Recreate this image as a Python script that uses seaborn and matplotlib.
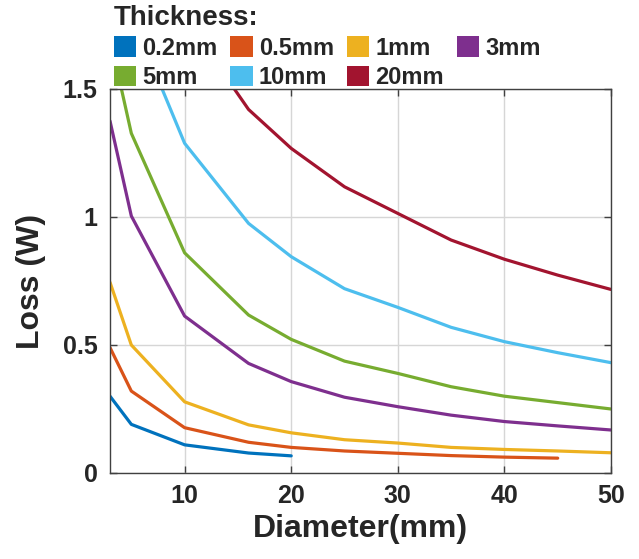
import numpy as np
import pandas as pd
import matplotlib
matplotlib.use("Agg")
import matplotlib.pyplot as plt
from matplotlib.patches import Patch
import seaborn as sns

diameter = [3, 5, 10, 16, 20, 25, 30, 35, 40, 45, 50]
thickness_labels = ["0.2mm", "0.5mm", "1mm", "3mm", "5mm", "10mm", "20mm"]
loss_02 = [0.30, 0.19, 0.11, 0.078, 0.067]
loss_05 = [0.49, 0.32, 0.177, 0.12, 0.10, 0.086, 0.077, 0.068, 0.062, 0.058]
loss_1 = [0.745, 0.50, 0.278, 0.188, 0.157, 0.13, 0.117, 0.10, 0.092, 0.086, 0.079]
loss_3 = [1.375, 1.004, 0.613, 0.428, 0.357, 0.296, 0.259, 0.226, 0.201, 0.184, 0.168]
loss_5 = [1.70, 1.327, 0.86, 0.617, 0.522, 0.437, 0.389, 0.337, 0.30, 0.275, 0.25]
loss_10 = [2.40, 1.79, 1.288, 0.975, 0.845, 0.72, 0.647, 0.569, 0.513, 0.47, 0.431]
loss_20 = [3.40, 2.60, 1.78, 1.42, 1.268, 1.118, 1.014, 0.91, 0.835, 0.773, 0.717]
colors = ["#0072BD", "#D95319", "#EDB120", "#7E2F8E", "#77AC30", "#4DBEEE", "#A2142F"]

series = [loss_02, loss_05, loss_1, loss_3, loss_5, loss_10, loss_20]
rows = []
for lab, vals in zip(thickness_labels, series):
    for d, v in zip(diameter, vals):
        rows.append({"Diameter": d, "Loss": v, "Thickness": lab})
df = pd.DataFrame(rows)

sns.set_theme(style="ticks")
plt.rcParams['font.family'] = ['Liberation Sans', 'DejaVu Sans']
plt.rcParams['font.weight'] = 'bold'

fig = plt.figure(figsize=(6.39, 5.59), dpi=100)
ax = fig.add_axes([110/639, 1-473/559, (611-110)/639, (473-89)/559])

sns.lineplot(data=df, x="Diameter", y="Loss", hue="Thickness",
             hue_order=thickness_labels, palette=colors, linewidth=2.3,
             legend=False, ax=ax, sort=True)

ax.set_xlim(3, 50)
ax.set_ylim(0, 1.5)
ax.set_xticks([10, 20, 30, 40, 50])
ax.set_yticks([0, 0.5, 1, 1.5])
ax.set_yticklabels(["0", "0.5", "1", "1.5"])
ax.grid(True, color="#d6d6d6", linewidth=1.0)
ax.set_axisbelow(True)
for s in ax.spines.values():
    s.set_visible(True)
    s.set_color("#404040")
    s.set_linewidth(1.0)
ax.tick_params(direction="in", length=5, width=1, color="#404040",
               top=True, right=True, labelsize=18, labelcolor="#262626")
ax.tick_params(axis="y", pad=9)
ax.tick_params(axis="x", pad=8)
for t in ax.get_xticklabels() + ax.get_yticklabels():
    t.set_fontweight("bold")
ax.set_xlabel("Diameter(mm)", fontsize=23, fontweight="bold", labelpad=4, color="#262626")
ax.set_ylabel("Loss (W)", fontsize=23, fontweight="bold", labelpad=12, color="#262626")

# row-wise order for a 4-column legend
order = [0, 4, 1, 5, 2, 6, 3]
handles = [Patch(facecolor=colors[i], edgecolor="none") for i in order]
labels = [thickness_labels[i] for i in order]
leg = fig.legend(handles, labels, loc="upper left",
                 bbox_to_anchor=(109/639, 1.0), ncol=4, frameon=False,
                 prop={"size": 17, "weight": "bold"},
                 title="Thickness:", title_fontproperties={"size": 20, "weight": "bold"},
                 handlelength=0.95, handleheight=0.95, handletextpad=0.25,
                 columnspacing=0.55, labelspacing=0.26, borderaxespad=0.0,
                 borderpad=0.2)
leg._legend_box.align = "left"
leg._legend_box.sep = 4

fig.savefig("out.png", dpi=100)
